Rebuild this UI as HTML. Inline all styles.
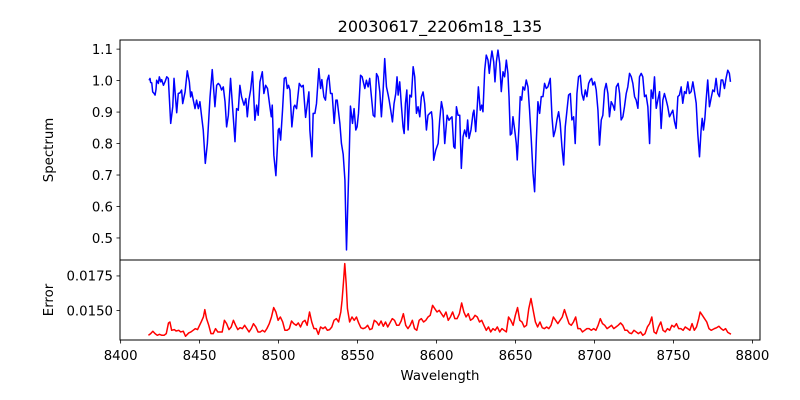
<!DOCTYPE html>
<html><head><meta charset="utf-8"><style>
html,body{margin:0;padding:0;background:#fff;}
svg{display:block;font-family:"DejaVu Sans","Liberation Sans",sans-serif;}
</style></head><body>
<svg id="fig" width="800" height="400" viewBox="0 0 800 400" xmlns="http://www.w3.org/2000/svg">
<rect width="800" height="400" fill="#fff"/>
<text x="440" y="32" font-size="16" text-anchor="middle">20030617_2206m18_135</text>
<text transform="translate(53,150) rotate(-90)" font-size="13.3" text-anchor="middle">Spectrum</text>
<text transform="translate(53,300) rotate(-90)" font-size="13.3" text-anchor="middle">Error</text>
<text x="440" y="380" font-size="13.3" text-anchor="middle">Wavelength</text>
<g id="gTop"></g>
<g id="gBot"></g>
</svg>
<script>
const specWave=[8418.0,8418.6,8419.0,8419.7,8420.3,8421.2,8421.8,8422.4,8422.8,8423.9,8424.5,8425.4,8426.0,8427.1,8428.1,8429.2,8430.2,8431.7,8433.0,8433.8,8435.5,8436.5,8437.6,8438.6,8439.3,8440.8,8442.2,8443.5,8444.3,8445.0,8446.0,8447.1,8448.1,8449.2,8450.2,8451.3,8452.3,8453.6,8454.9,8456.6,8458.0,8459.7,8460.8,8461.8,8462.9,8463.9,8465.0,8466.1,8467.1,8468.2,8469.6,8471.3,8472.4,8473.4,8474.5,8475.5,8476.6,8478.1,8479.3,8480.2,8481.2,8482.3,8483.5,8485.0,8486.1,8487.1,8488.2,8489.7,8490.7,8491.8,8493.0,8494.5,8495.4,8496.0,8497.0,8498.3,8499.8,8500.4,8501.3,8502.5,8503.6,8504.6,8505.5,8506.3,8507.2,8508.4,8509.7,8510.3,8511.4,8513.1,8514.5,8515.6,8517.1,8518.1,8519.2,8519.8,8521.1,8521.9,8523.0,8524.0,8525.5,8526.6,8527.4,8528.7,8529.7,8530.8,8531.8,8532.9,8533.9,8535.2,8536.3,8537.1,8538.8,8539.8,8540.9,8542.0,8542.6,8543.0,8543.6,8544.7,8545.5,8546.8,8547.8,8548.9,8549.7,8550.6,8551.9,8552.9,8554.6,8555.6,8556.7,8557.7,8558.8,8559.9,8560.9,8562.0,8563.0,8564.1,8565.1,8566.2,8567.2,8568.3,8569.4,8570.0,8571.0,8572.1,8573.1,8574.2,8575.0,8575.7,8576.7,8577.8,8578.8,8579.5,8580.3,8581.2,8582.0,8583.1,8584.1,8585.2,8586.2,8587.3,8588.3,8589.4,8590.4,8591.5,8592.5,8593.6,8594.6,8595.7,8596.8,8597.4,8598.2,8599.5,8601.0,8602.0,8603.1,8604.1,8605.2,8606.7,8607.9,8608.8,8609.8,8610.9,8611.7,8612.6,8613.6,8614.7,8615.7,8616.8,8617.8,8618.9,8619.7,8620.6,8621.8,8623.1,8623.7,8624.8,8625.6,8626.5,8627.7,8628.6,8629.4,8630.5,8631.5,8632.6,8633.4,8634.3,8635.1,8636.2,8637.0,8637.9,8638.9,8640.0,8641.0,8642.1,8643.1,8644.2,8645.2,8645.9,8646.7,8647.6,8648.4,8649.5,8650.5,8651.1,8652.2,8653.0,8653.9,8654.7,8655.8,8656.8,8657.9,8658.9,8660.0,8661.1,8662.1,8663.2,8664.2,8665.3,8666.3,8667.4,8668.4,8669.5,8670.5,8672.0,8673.1,8674.1,8675.2,8676.2,8677.3,8678.3,8679.4,8680.5,8681.5,8682.6,8683.6,8684.7,8685.7,8686.8,8687.8,8688.9,8689.9,8691.0,8692.0,8693.1,8694.2,8695.2,8696.3,8697.3,8698.2,8699.0,8700.1,8701.1,8702.2,8703.2,8704.3,8705.3,8706.4,8707.4,8708.5,8709.5,8710.6,8711.7,8712.7,8713.8,8715.0,8715.9,8716.9,8718.0,8719.0,8720.1,8721.1,8722.2,8723.3,8724.3,8725.4,8726.4,8727.5,8728.5,8729.6,8730.6,8731.7,8732.7,8733.8,8734.9,8735.9,8737.0,8738.0,8739.1,8740.1,8741.2,8742.2,8743.3,8744.3,8745.4,8746.4,8747.5,8748.6,8749.6,8750.7,8751.7,8752.8,8753.8,8754.9,8755.9,8757.0,8758.0,8759.1,8760.1,8761.2,8762.3,8763.3,8764.4,8765.4,8766.5,8767.5,8768.2,8769.0,8769.9,8770.7,8771.7,8772.8,8773.8,8774.9,8775.9,8777.0,8778.1,8779.1,8780.2,8781.2,8782.3,8783.3,8784.4,8785.4,8786.1];
const specFlux=[1.001,1.007,0.994,0.993,0.964,0.959,0.954,0.972,1.001,0.991,1.012,0.996,1.003,0.985,0.996,1.012,1.007,0.864,0.917,1.007,0.898,0.959,0.961,0.970,0.927,0.964,1.031,0.996,0.948,0.964,0.938,0.911,0.938,0.911,0.933,0.885,0.843,0.737,0.800,0.948,1.035,0.917,0.985,0.991,0.985,0.970,0.980,0.933,0.853,0.890,1.007,0.885,0.806,0.911,0.906,0.985,0.948,0.922,0.943,0.885,0.938,0.970,1.028,0.874,0.922,0.890,0.996,1.028,0.959,0.985,0.975,0.917,0.885,0.922,0.763,0.698,0.843,0.848,0.811,0.906,1.007,1.010,0.975,0.985,0.970,0.853,0.917,0.922,0.911,0.991,0.980,0.985,0.883,0.922,0.964,0.843,0.758,0.896,0.896,0.927,1.038,0.975,1.003,0.948,0.938,1.001,1.017,0.959,0.959,0.864,0.938,0.938,0.864,0.800,0.766,0.684,0.546,0.462,0.567,0.758,0.919,0.864,0.911,0.843,0.853,0.896,1.017,1.012,0.975,1.001,0.980,1.007,0.948,0.890,0.885,1.022,1.012,0.964,0.885,0.970,1.070,0.980,0.954,0.938,0.906,0.869,0.927,0.959,1.012,0.954,0.996,0.917,0.853,0.832,0.927,0.970,0.843,0.954,0.948,1.044,1.012,0.896,0.917,0.885,0.948,0.964,0.927,0.843,0.890,0.896,0.901,0.874,0.747,0.779,0.800,0.874,0.933,0.906,0.800,0.890,0.874,0.880,0.885,0.790,0.785,0.917,0.890,0.890,0.721,0.822,0.843,0.822,0.875,0.816,0.843,0.896,0.906,0.838,0.901,0.980,0.906,0.922,0.901,1.033,1.081,1.065,1.023,1.065,1.094,1.060,0.996,1.060,1.097,1.055,0.965,1.028,1.012,1.065,1.023,0.949,0.827,0.832,0.885,0.843,0.800,0.748,0.853,0.949,0.938,0.980,0.970,1.002,0.980,0.906,0.811,0.705,0.647,0.811,0.933,0.896,0.949,0.949,0.991,0.975,0.980,1.007,0.885,0.822,0.843,0.875,0.901,0.864,0.790,0.732,0.853,0.906,0.954,0.959,0.875,0.885,0.800,0.959,1.012,1.017,0.959,0.938,0.970,0.949,0.991,1.002,1.007,0.986,0.996,0.970,0.906,0.795,0.875,0.890,0.970,0.991,0.959,0.885,0.933,0.922,0.906,0.980,0.991,0.959,0.875,0.885,0.917,0.959,0.980,1.023,1.012,0.991,0.949,0.938,0.912,1.012,1.023,1.012,0.949,0.954,0.917,0.800,0.970,0.943,1.012,0.912,0.938,0.965,0.848,0.938,0.959,0.938,0.917,0.885,0.896,0.906,0.869,0.848,0.949,0.954,0.980,0.928,0.965,0.959,0.996,0.959,0.965,0.996,0.965,0.928,0.832,0.758,0.843,0.880,0.843,0.880,0.938,1.002,0.917,0.943,0.970,0.965,1.007,0.959,0.949,1.002,1.002,0.975,1.007,1.033,1.023,0.996];
const errWave=[8417.6,8419.0,8420.4,8421.8,8423.2,8424.6,8426.1,8427.5,8428.9,8430.3,8431.2,8432.3,8434.0,8435.1,8436.8,8438.0,8439.7,8441.1,8443.1,8444.5,8445.9,8447.3,8448.7,8451.0,8452.4,8453.3,8454.4,8455.8,8457.2,8458.6,8460.1,8461.5,8462.9,8464.3,8465.7,8467.1,8468.6,8470.0,8471.4,8472.8,8474.2,8475.6,8477.1,8478.5,8479.9,8481.3,8482.7,8484.1,8485.6,8487.0,8488.4,8489.8,8491.2,8492.6,8494.1,8495.5,8496.9,8498.3,8499.7,8501.1,8502.6,8504.0,8505.4,8506.8,8508.2,8509.6,8511.1,8512.5,8513.9,8515.3,8516.7,8518.1,8519.6,8521.0,8522.4,8523.8,8525.2,8526.6,8528.1,8529.5,8530.9,8532.3,8533.7,8535.1,8536.6,8538.0,8539.4,8540.2,8541.1,8541.9,8542.8,8543.6,8545.0,8546.5,8547.9,8549.3,8550.7,8552.1,8553.5,8555.0,8556.4,8557.8,8559.2,8560.6,8562.0,8563.5,8564.9,8566.3,8567.7,8569.1,8570.5,8572.0,8573.4,8574.8,8576.2,8577.6,8579.0,8580.5,8581.9,8583.3,8584.7,8586.1,8587.5,8589.0,8590.4,8591.8,8593.2,8594.6,8596.0,8597.5,8598.9,8600.3,8601.7,8603.1,8604.5,8606.0,8607.4,8608.8,8610.2,8611.6,8613.0,8614.5,8615.9,8617.3,8618.7,8620.1,8621.5,8623.0,8624.4,8625.8,8627.2,8628.6,8630.0,8631.5,8632.9,8634.3,8635.7,8637.1,8638.5,8640.0,8641.4,8642.8,8644.2,8645.6,8647.0,8648.5,8649.9,8651.3,8652.7,8654.1,8655.5,8657.0,8658.4,8659.8,8661.2,8662.6,8664.0,8665.5,8666.9,8668.3,8669.7,8671.1,8672.5,8674.0,8675.4,8676.8,8678.2,8679.6,8681.0,8682.5,8683.9,8685.3,8686.7,8688.1,8689.5,8691.0,8692.4,8693.8,8695.2,8696.6,8698.0,8699.5,8700.9,8702.3,8703.7,8705.1,8706.5,8708.0,8709.4,8710.8,8712.2,8713.6,8715.0,8716.5,8717.9,8719.3,8720.7,8722.1,8723.5,8725.0,8726.4,8727.8,8729.2,8730.6,8732.0,8733.5,8734.9,8736.3,8737.7,8739.1,8740.5,8742.0,8743.4,8744.8,8746.2,8747.6,8749.0,8750.5,8751.9,8753.3,8754.7,8756.1,8757.5,8759.0,8760.4,8761.8,8763.2,8764.6,8766.0,8766.9,8768.3,8769.7,8771.1,8772.5,8773.9,8775.9,8777.4,8778.8,8780.2,8781.6,8783.0,8784.4,8786.4];
const errVal=[0.01322,0.01334,0.01351,0.01334,0.01322,0.01329,0.01322,0.01322,0.01334,0.01411,0.01418,0.01358,0.01363,0.01353,0.01358,0.01346,0.01351,0.01315,0.01339,0.01346,0.01358,0.01370,0.01363,0.01418,0.01454,0.01507,0.01442,0.01394,0.01334,0.01334,0.01370,0.01346,0.01346,0.01346,0.01430,0.01406,0.01363,0.01382,0.01430,0.01394,0.01363,0.01377,0.01370,0.01394,0.01370,0.01346,0.01370,0.01406,0.01382,0.01346,0.01346,0.01358,0.01346,0.01370,0.01406,0.01454,0.01522,0.01490,0.01430,0.01454,0.01418,0.01358,0.01358,0.01370,0.01425,0.01406,0.01394,0.01411,0.01382,0.01418,0.01430,0.01394,0.01490,0.01418,0.01370,0.01370,0.01329,0.01382,0.01370,0.01382,0.01358,0.01363,0.01382,0.01430,0.01442,0.01418,0.01490,0.01575,0.01707,0.01839,0.01695,0.01514,0.01418,0.01454,0.01430,0.01454,0.01411,0.01377,0.01370,0.01377,0.01394,0.01363,0.01370,0.01430,0.01418,0.01394,0.01425,0.01387,0.01418,0.01382,0.01411,0.01442,0.01430,0.01394,0.01394,0.01425,0.01478,0.01394,0.01370,0.01394,0.01430,0.01370,0.01358,0.01430,0.01442,0.01418,0.01430,0.01454,0.01466,0.01538,0.01514,0.01490,0.01502,0.01478,0.01454,0.01490,0.01430,0.01454,0.01490,0.01442,0.01442,0.01478,0.01555,0.01490,0.01454,0.01478,0.01430,0.01442,0.01466,0.01454,0.01418,0.01430,0.01394,0.01358,0.01382,0.01346,0.01370,0.01358,0.01382,0.01346,0.01370,0.01358,0.01346,0.01454,0.01430,0.01394,0.01466,0.01522,0.01430,0.01418,0.01382,0.01394,0.01514,0.01587,0.01502,0.01418,0.01382,0.01418,0.01377,0.01370,0.01382,0.01370,0.01394,0.01454,0.01430,0.01406,0.01430,0.01454,0.01507,0.01454,0.01406,0.01394,0.01418,0.01454,0.01370,0.01370,0.01346,0.01358,0.01370,0.01370,0.01358,0.01370,0.01358,0.01394,0.01442,0.01406,0.01394,0.01370,0.01382,0.01394,0.01370,0.01382,0.01394,0.01411,0.01394,0.01358,0.01358,0.01339,0.01334,0.01358,0.01346,0.01334,0.01346,0.01322,0.01334,0.01382,0.01406,0.01454,0.01346,0.01334,0.01382,0.01418,0.01358,0.01346,0.01370,0.01358,0.01394,0.01382,0.01406,0.01370,0.01370,0.01358,0.01382,0.01370,0.01358,0.01406,0.01358,0.01382,0.01442,0.01490,0.01466,0.01442,0.01418,0.01370,0.01358,0.01370,0.01377,0.01387,0.01370,0.01358,0.01370,0.01343,0.01330];
const xTicks=[8400,8450,8500,8550,8600,8650,8700,8750,8800];
const topYTicks=[0.5,0.6,0.7,0.8,0.9,1.0,1.1];
const topYLabels=["0.5","0.6","0.7","0.8","0.9","1.0","1.1"];
const botYTicks=[0.0150,0.0175];
const botYLabels=["0.0150","0.0175"];

const NS="http://www.w3.org/2000/svg";
const L=120,R=760,T1=40,B1=260,T2=260,B2=340;
const xMin=8399.6,xMax=8804.8;
const tMin=0.430,tMax=1.129;
const bMin=0.01288,bMax=0.01865;
const xs=v=>L+(v-xMin)/(xMax-xMin)*(R-L);
const yT=v=>B1-(v-tMin)/(tMax-tMin)*(B1-T1);
const yB=v=>B2-(v-bMin)/(bMax-bMin)*(B2-T2);
function mk(tag,attrs,parent){const e=document.createElementNS(NS,tag);for(const k in attrs)e.setAttribute(k,attrs[k]);parent.appendChild(e);return e;}
const gT=document.getElementById('gTop'),gB=document.getElementById('gBot');

let d=specWave.map((w,i)=>(i?'L':'M')+xs(w).toFixed(2)+','+yT(specFlux[i]).toFixed(2)).join('');
const p1=mk('path',{d:d,fill:'none',stroke:'#0000ff','stroke-width':1.5,'stroke-linejoin':'round'},gT);


d=errWave.map((w,i)=>(i?'L':'M')+xs(w).toFixed(2)+','+yB(errVal[i]).toFixed(2)).join('');
const p2=mk('path',{d:d,fill:'none',stroke:'#ff0000','stroke-width':1.5,'stroke-linejoin':'round'},gB);



const f1=mk('rect',{x:L,y:T1,width:R-L,height:B1-T1,fill:'none',stroke:'#000','stroke-width':1},gT);


const f2=mk('rect',{x:L,y:T2,width:R-L,height:B2-T2,fill:'none',stroke:'#000','stroke-width':1},gB);



topYTicks.forEach((v,i)=>{const y=yT(v);
 const t=mk('line',{x1:L-3.5,x2:L,y1:y,y2:y,stroke:'#000','stroke-width':0.8},gT);
 
 
 const tx=mk('text',{x:L-7,y:y+4.8,'font-size':13.3,'text-anchor':'end'},gT);tx.textContent=topYLabels[i];
 
 });
botYTicks.forEach((v,i)=>{const y=yB(v);
 const t=mk('line',{x1:L-3.5,x2:L,y1:y,y2:y,stroke:'#000','stroke-width':0.8},gB);
 
 
 const tx=mk('text',{x:L-7,y:y+4.8,'font-size':13.3,'text-anchor':'end'},gB);tx.textContent=botYLabels[i];
 
 });
xTicks.forEach(v=>{const x=xs(v);
 const t=mk('line',{x1:x,x2:x,y1:B2,y2:B2+3.5,stroke:'#000','stroke-width':0.8},gB);
 
 
 const tx=mk('text',{x:x,y:B2+20,'font-size':13.3,'text-anchor':'middle'},gB);tx.textContent=String(v);
 
 });
</script>
</body></html>
